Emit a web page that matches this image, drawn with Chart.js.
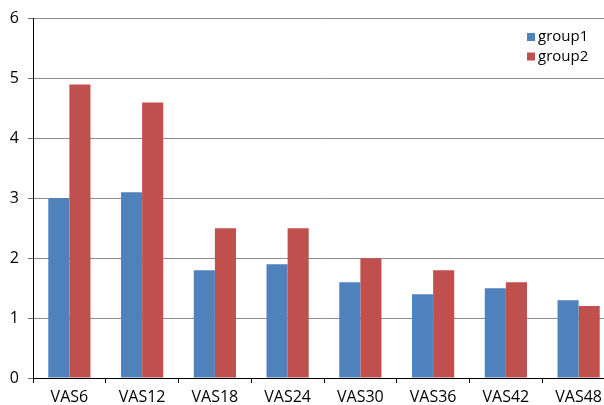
<!DOCTYPE html>
<html>
<head>
<meta charset="utf-8">
<script src="https://cdn.jsdelivr.net/npm/chart.js@4/dist/chart.umd.min.js"></script>
<style>
  html, body { margin: 0; padding: 0; background: #fff; overflow: hidden; }
  #wrap { width: 616px; height: 405px; position: relative; }
</style>
</head>
<body>
<div id="wrap"><canvas id="c" width="616" height="405"></canvas></div>
<script>
// Scores per visit
const categories = ['VAS6', 'VAS12', 'VAS18', 'VAS24', 'VAS30', 'VAS36', 'VAS42', 'VAS48'];
const group1 = [3.0, 3.1, 1.8, 1.9, 1.6, 1.4, 1.5, 1.3];
const group2 = [4.9, 4.6, 2.5, 2.5, 2.0, 1.8, 1.6, 1.2];
const seriesNames = ['group1', 'group2'];
const yTicks = [0, 1, 2, 3, 4, 5, 6];

const FONT = "'Open Sans', 'Noto Sans', sans-serif";

// Legend drawn inside the plot, top-right corner
const cornerLegend = {
  id: 'cornerLegend',
  afterDraw(chart) {
    const ctx = chart.ctx;
    ctx.save();
    ctx.font = '15px ' + FONT;
    ctx.textBaseline = 'middle';
    chart.data.datasets.forEach((ds, i) => {
      const y = 37 + i * 19.5;
      ctx.fillStyle = ds.backgroundColor;
      ctx.fillRect(527, y - 4, 8, 8);
      ctx.fillStyle = '#000';
      ctx.fillText(ds.label, 538, y);
    });
    ctx.restore();
  }
};

new Chart(document.getElementById('c'), {
  type: 'bar',
  data: {
    labels: categories,
    datasets: [
      { label: seriesNames[0], data: group1, backgroundColor: '#4F81BD' },
      { label: seriesNames[1], data: group2, backgroundColor: '#C0504D' }
    ]
  },
  options: {
    responsive: false,
    animation: false,
    layout: { padding: { top: 18, right: 1, left: 0, bottom: 0 } },
    datasets: { bar: { categoryPercentage: 0.58, barPercentage: 1.0, borderWidth: 0 } },
    plugins: { legend: { display: false }, tooltip: { enabled: false } },
    scales: {
      x: {
        afterFit(scale) { scale.height = 27; },
        grid: { offset: true, drawOnChartArea: false, drawTicks: true, tickLength: 5, tickColor: '#000' },
        border: { color: '#000', width: 1 },
        ticks: { color: '#000', padding: 5, font: { family: FONT, size: 16 } }
      },
      y: {
        min: 0, max: 6,
        afterFit(scale) { scale.width = 33; },
        afterBuildTicks(scale) { scale.ticks = yTicks.map(v => ({ value: v })); },
        grid: { color: '#8c8c8c', lineWidth: 1, tickLength: 5, tickColor: '#6e6e6e' },
        border: { color: '#000', width: 1 },
        ticks: { color: '#000', padding: 9, font: { family: FONT, size: 16 } }
      }
    }
  },
  plugins: [cornerLegend]
});
</script>
</body>
</html>
